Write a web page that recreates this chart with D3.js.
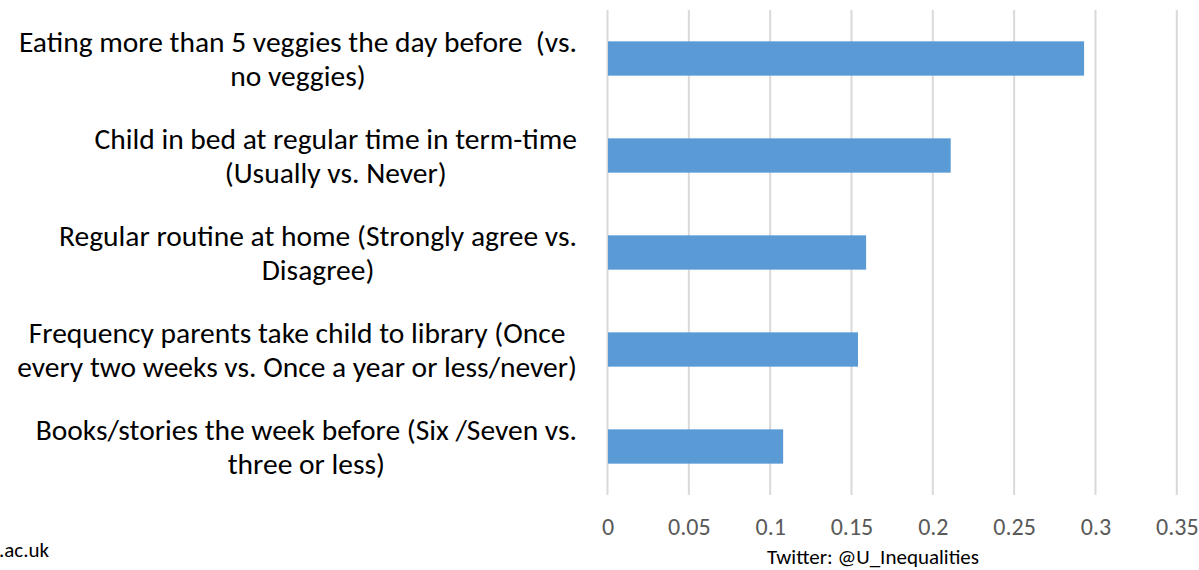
<!DOCTYPE html>
<html>
<head>
<meta charset="utf-8">
<script src="https://cdn.jsdelivr.net/npm/d3@7"></script>
<style>
  html, body { margin: 0; padding: 0; background: #fff; }
  svg { display: block; }
  text { font-family: Carlito, Calibri, Lato, "Open Sans", sans-serif; white-space: pre; }
</style>
</head>
<body>
<svg id="chart" width="1199" height="570"></svg>
<script>
// Category labels, one entry per wrapped line
const categories = [
  ["Eating more than 5 veggies the day before  (vs.", "no veggies)"],
  ["Child in bed at regular time in term-time", "(Usually vs. Never)"],
  ["Regular routine at home (Strongly agree vs.", "Disagree)"],
  ["Frequency parents take child to library (Once", "every two weeks vs. Once a year or less/never)"],
  ["Books/stories the week before (Six /Seven vs.", "three or less)"]
];
const values = [0.293, 0.211, 0.159, 0.154, 0.108];
const tickValues = [0, 0.05, 0.1, 0.15, 0.2, 0.25, 0.3, 0.35];
const tickLabels = ["0", "0.05", "0.1", "0.15", "0.2", "0.25", "0.3", "0.35"];

const svg = d3.select("#chart");
const plot = { left: 607.5, right: 1176.8, top: 10, bottom: 495 };

const x = d3.scaleLinear().domain([0, 0.35]).range([plot.left, plot.right]);
const y = d3.scaleBand()
  .domain(d3.range(categories.length))
  .range([plot.top, plot.bottom])
  .paddingInner(0.646)
  .paddingOuter(0.323);

// Vertical gridlines
svg.append("g")
  .selectAll("line")
  .data(tickValues)
  .join("line")
  .attr("x1", d => x(d)).attr("x2", d => x(d))
  .attr("y1", plot.top).attr("y2", plot.bottom)
  .attr("stroke", "#d9d9d9")
  .attr("stroke-width", 2);

// Bars
svg.append("g")
  .selectAll("rect")
  .data(values)
  .join("rect")
  .attr("x", x(0) + 0.5)
  .attr("y", (d, i) => y(i))
  .attr("width", d => x(d) - x(0) - 0.5)
  .attr("height", y.bandwidth())
  .attr("fill", "#5b9bd5");

// X axis tick labels
const xAxis = d3.axisBottom(x)
  .tickValues(tickValues)
  .tickFormat((d, i) => tickLabels[i])
  .tickSize(0)
  .tickPadding(0);
const gx = svg.append("g")
  .attr("transform", `translate(0,${plot.bottom})`)
  .call(xAxis);
gx.select(".domain").remove();
gx.selectAll("text")
  .attr("dy", null)
  .attr("y", 40)
  .attr("fill", "#595959")
  .style("font-size", "24px")
  .style("font-family", "Carlito, Calibri, Lato, 'Open Sans', sans-serif");

// Category labels: each block of lines is centred on itself and right-aligned to the axis
const labelRight = 577;
const lineGap = 34;
const labels = svg.append("g");
categories.forEach((lines, i) => {
  const cy = y(i) + y.bandwidth() / 2;
  const t = labels.append("text")
    .attr("fill", "#000")
    .style("font-size", "29.5px")
    .attr("text-anchor", "middle");
  const spans = lines.map((line, j) =>
    t.append("tspan")
      .attr("y", cy + (j - (lines.length - 1) / 2) * lineGap)
      .attr("dy", "0.35em")
      .text(line)
  );
  const w = d3.max(spans, s => s.node().getComputedTextLength());
  spans.forEach(s => s.attr("x", labelRight - w / 2));
});

// Footer credits
svg.append("text")
  .attr("x", -1).attr("y", 557)
  .attr("fill", "#000")
  .style("font-size", "21px")
  .text(".ac.uk");

svg.append("text")
  .attr("x", 873).attr("y", 564)
  .attr("text-anchor", "middle")
  .attr("fill", "#000")
  .style("font-size", "21px")
  .text("Twitter: @U_Inequalities");
</script>
</body>
</html>
